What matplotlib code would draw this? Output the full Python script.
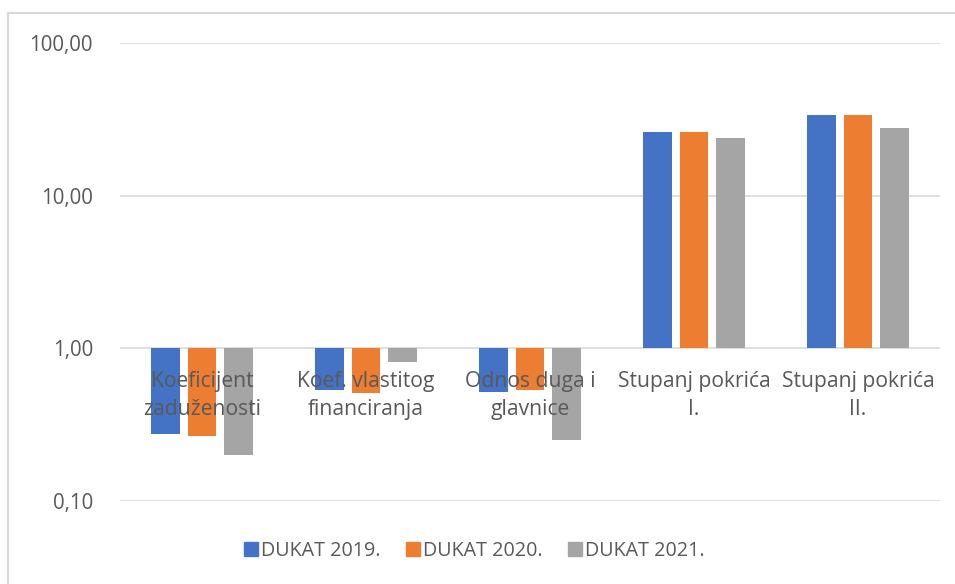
import numpy as np
import matplotlib
matplotlib.use('Agg')
import matplotlib.pyplot as plt
from matplotlib.lines import Line2D
from matplotlib.ticker import FixedLocator, FixedFormatter, NullLocator

plt.rcParams['font.family'] = ['Open Sans', 'DejaVu Sans']

categories = ['Koeficijent\nzaduženosti', 'Koef. vlastitog\nfinanciranja',
              'Odnos duga i\nglavnice', 'Stupanj pokrića\nI.', 'Stupanj pokrića\nII.']
series = ['DUKAT 2019.', 'DUKAT 2020.', 'DUKAT 2021.']
v2019 = [0.273, 0.533, 0.517, 26.3, 33.9]
v2020 = [0.267, 0.507, 0.533, 26.3, 33.9]
v2021 = [0.200, 0.818, 0.250, 23.7, 27.7]
colors = ['#4472C4', '#ED7D31', '#A5A5A5']
ticks = [0.1, 1, 10, 100]
tick_labels = ['0,10', '1,00', '10,00', '100,00']

fig = plt.figure(figsize=(9.55, 5.84), dpi=100)
ax = fig.add_axes([120/955, 83/584, 820/955, 458/584])
ax.set_yscale('log')
ax.set_ylim(0.1, 100)
ax.set_xlim(-0.5, len(categories) - 0.5)

x = np.arange(len(categories))
w = 0.174
step = 0.223
for i, (vals, c) in enumerate(zip([v2019, v2020, v2021], colors)):
    vals = np.array(vals)
    ax.bar(x + (i - 1) * step, vals - 1, bottom=1, width=w, color=c,
           label=series[i], zorder=3)

ax.yaxis.set_major_locator(FixedLocator(ticks))
ax.yaxis.set_major_formatter(FixedFormatter(tick_labels))
ax.yaxis.set_minor_locator(NullLocator())
ax.tick_params(axis='y', length=0, pad=19.5, labelsize=14.8, labelcolor='#595959')
ax.set_xticks([])
for t in ticks:
    ax.axhline(t, color='#D9D9D9', lw=1.2, zorder=1)
for s in ax.spines.values():
    s.set_visible(False)

for xi, lab in zip(x, categories):
    ax.annotate(lab, xy=(xi, 1), xytext=(0, -16), textcoords='offset points',
                ha='center', va='top', fontsize=15.2, color='#595959',
                linespacing=1.45, zorder=4)

handles = [Line2D([], [], marker='s', ls='', color=c, markersize=9.5) for c in colors]
fig.legend(handles, series, loc='center', bbox_to_anchor=(0.497, 1 - 551/584),
           ncol=3, frameon=False, fontsize=14.2, handletextpad=0.15,
           handlelength=0.7, columnspacing=1.3, labelcolor='#595959')

# chart border
fig.add_artist(Line2D([8/955, 8/955], [0, 1 - 13/584], color='#D9D9D9', lw=1.5,
                      transform=fig.transFigure))
fig.add_artist(Line2D([8/955, 1], [1 - 13/584, 1 - 13/584], color='#D9D9D9', lw=1.5,
                      transform=fig.transFigure))

fig.savefig('out.png', dpi=100)
